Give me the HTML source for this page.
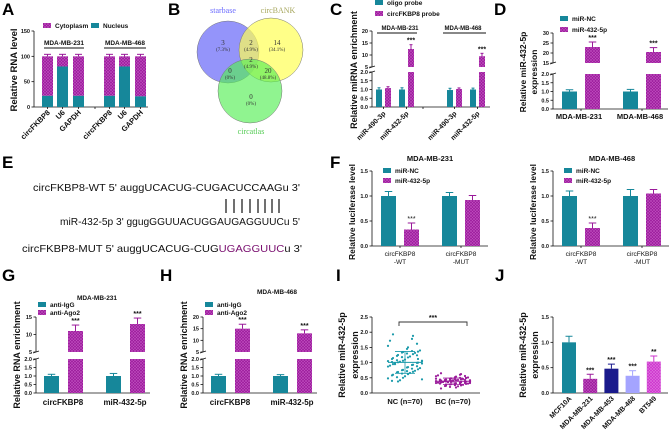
<!DOCTYPE html>
<html><head><meta charset="utf-8">
<style>
html,body{margin:0;padding:0;background:#fff;}
svg{display:block;font-family:"Liberation Sans",Arial,sans-serif;}
</style></head>
<body>
<svg id="fig" width="669" height="434" viewBox="0 0 669 434" xmlns="http://www.w3.org/2000/svg">
<defs>
<pattern id="hatch" width="3" height="3" patternUnits="userSpaceOnUse">
<rect width="3" height="3" fill="#9a1a9a"/>
<path d="M0,0 L3,3 M3,0 L0,3" stroke="#c050c0" stroke-width="0.6"/>
</pattern>
<pattern id="hatchpink" width="3" height="3" patternUnits="userSpaceOnUse">
<rect width="3" height="3" fill="#cc33cc"/>
<path d="M0,0 L3,3 M3,0 L0,3" stroke="#e070e0" stroke-width="0.6"/>
</pattern>
</defs>
<g font-weight="bold" font-size="17">
<text x="2" y="15">A</text>
<text x="168" y="15">B</text>
<text x="330" y="15">C</text>
<text x="494" y="15">D</text>
<text x="2" y="168">E</text>
<text x="330" y="168">F</text>
<text x="2" y="281">G</text>
<text x="160" y="281">H</text>
<text x="336" y="281">I</text>
<text x="495" y="281">J</text>
</g>
<g>
<circle cx="228" cy="52" r="31" fill="#7070f8" fill-opacity="0.75" stroke="#777" stroke-width="0.5"/>
<circle cx="271" cy="50" r="32" fill="#ffff55" fill-opacity="0.7" stroke="#777" stroke-width="0.5"/>
<circle cx="250" cy="91" r="32" fill="#55ee55" fill-opacity="0.65" stroke="#777" stroke-width="0.5"/>
<g font-family="Liberation Serif, serif" font-size="7" text-anchor="middle" fill="#333">
<text x="223" y="13" fill="#6b6bff" font-size="8">starbase</text>
<text x="278" y="13" fill="#a8a860" font-size="8">circBANK</text>
<text x="251" y="134" fill="#55cc55" font-size="8">circatlas</text>
<text x="223" y="45">3</text><text x="223" y="51" font-size="5">(7.3%)</text>
<text x="251" y="45">2</text><text x="251" y="51" font-size="5">(4.9%)</text>
<text x="277" y="45">14</text><text x="277" y="51" font-size="5">(34.1%)</text>
<text x="251" y="62">2</text><text x="251" y="68" font-size="5">(4.9%)</text>
<text x="230" y="73">0</text><text x="230" y="79" font-size="5">(0%)</text>
<text x="268" y="73">20</text><text x="268" y="79" font-size="5">(48.8%)</text>
<text x="251" y="99">0</text><text x="251" y="105" font-size="5">(0%)</text>
</g>
</g>
<g font-size="10.5" fill="#111">
<text x="33" y="191" textLength="267" lengthAdjust="spacingAndGlyphs">circFKBP8-WT  5' auggUCACUG-CUGACUCCAAGu 3'</text>
<text x="60" y="225" textLength="240" lengthAdjust="spacingAndGlyphs">miR-432-5p  3' ggugGGUUACUGGAUGAGGUUCu 5'</text>
<text x="22" y="252" textLength="280" lengthAdjust="spacingAndGlyphs">circFKBP8-MUT  5' auggUCACUG-CUG<tspan fill="#7a1070">UGAGGUUC</tspan>u 3'</text>
<path d="M226,199V213M234,199V213M242,199V213M250,199V213M258,199V213M265,199V213M272,199V213M279,199V213" stroke="#111" stroke-width="1.2"/>
</g>
</svg>
<script>
// ---------- data ----------
const aCats = ["circFKBP8","U6","GAPDH","circFKBP8","U6","GAPDH"];
const aNucleus = [22,80,22,22,80,21];
const aCyto = [78,20,78,78,20,79];
const cCats = ["miR-490-3p","miR-432-5p","miR-490-3p","miR-432-5p"];
const cOligo = [1.0,1.0,0.97,1.0];
const cOligoErr = [0.1,0.1,0.1,0.08];
const cProbe = [1.08,12.5,1.03,9.5];
const cProbeErr = [0.08,1.8,0.06,1.2];
const dCats = ["MDA-MB-231","MDA-MB-468"];
const dNC = [1.0,1.0];
const dNCErr = [0.1,0.12];
const dMir = [23,20.5];
const dMirErr = [2.5,2.2];
const fCats = ["circFKBP8|-WT","circFKBP8|-MUT"];
const f231NC = [1.0,1.0];
const f231NCErr = [0.09,0.07];
const f231Mir = [0.33,0.92];
const f231MirErr = [0.13,0.09];
const f468NC = [1.0,1.0];
const f468NCErr = [0.1,0.13];
const f468Mir = [0.36,1.05];
const f468MirErr = [0.1,0.08];
const ghCats = ["circFKBP8","miR-432-5p"];
const gIgG = [1.0,1.0];
const gIgGErr = [0.1,0.15];
const gAgo = [11,13];
const gAgoErr = [1.7,1.7];
const hIgG = [1.0,1.0];
const hIgGErr = [0.1,0.08];
const hAgo = [15,13];
const hAgoErr = [1.9,1.5];
const iGroups = ["NC (n=70)","BC (n=70)"];
const iNC = [1.93,1.88,1.78,1.72,1.62,1.55,1.5,1.45,1.4,1.38,1.36,1.35,1.33,1.32,1.3,1.28,1.25,1.22,1.2,1.18,1.17,1.15,1.12,1.1,1.08,1.06,1.05,1.04,1.03,1.02,1.01,1.0,0.99,0.98,0.97,0.95,0.93,0.92,0.9,0.88,0.87,0.85,0.84,0.82,0.8,0.78,0.76,0.75,0.73,0.72,0.7,0.69,0.68,0.66,0.64,0.62,0.6,0.58,0.55,0.52,0.5,0.48,0.45,0.42,0.4,0.38,1.12,1.24,0.95,1.06];
const iBC = [0.65,0.62,0.6,0.58,0.56,0.55,0.54,0.52,0.51,0.5,0.49,0.48,0.47,0.46,0.45,0.45,0.44,0.43,0.43,0.42,0.42,0.41,0.41,0.4,0.4,0.4,0.39,0.39,0.38,0.38,0.38,0.37,0.37,0.36,0.36,0.35,0.35,0.34,0.34,0.33,0.33,0.32,0.32,0.31,0.3,0.3,0.29,0.28,0.27,0.26,0.25,0.24,0.23,0.22,0.2,0.18,0.15,0.44,0.41,0.39,0.36,0.47,0.42,0.35,0.31,0.28,0.5,0.43,0.37,0.33];
const jCats = ["MCF10A","MDA-MB-231","MDA-MB-453","MDA-MB-468","BT549"];
const jVals = [1.0,0.28,0.48,0.34,0.62];
const jErr = [0.12,0.09,0.09,0.1,0.11];
const jStars = ["","***","***","***","**"];

// ---------- helpers ----------
const NS='http://www.w3.org/2000/svg';
const svg=document.getElementById('fig');
const TEAL='#16879a', MAG='url(#hatch)', MAGC='#9a1a9a';
function mk(tag, attrs, name, parent){
  const el=document.createElementNS(NS,tag);
  for(const k in attrs) el.setAttribute(k,attrs[k]);
  
  
  (parent||svg).appendChild(el);
  return el;
}
function txt(x,y,s,size,name,o={}){
  const a={x:x,y:y,'font-size':size,'font-weight':o.w||'bold','text-anchor':o.a||'middle',fill:o.fill||'#111'};
  if(o.rot!==undefined) a.transform='rotate('+o.rot+' '+x+' '+y+')';
  const t=mk('text',a,name);
  t.textContent=s;
  return t;
}
function line(x1,y1,x2,y2,name,c,w){return mk('line',{x1:x1,y1:y1,x2:x2,y2:y2,stroke:c||'#111','stroke-width':w||0.8},name);}
function lin(d0,d1,r0,r1){return v=>r0+(v-d0)*(r1-r0)/(d1-d0);}
function makeAxis(x, segs, xEnd){
  segs.forEach(s=>{s.f=lin(s.d0,s.d1,s.y0,s.y1);});
  segs.forEach((s,si)=>{
    line(x,s.y0,x,s.y1,'y-axis-line');
    s.ticks.forEach(t=>{
      const y=s.f(t);
      line(x-2.5,y,x,y,'y-tick');
      txt(x-4,y+2,t.toFixed(s.dec),5.5,'y-tick-label',{a:'end'});
    });
    if(si>0){ line(x-3,s.y0+1,x+3,s.y0-1,'axis-break-mark'); line(x-3,segs[si-1].y1+1,x+3,segs[si-1].y1-1,'axis-break-mark'); }
  });
  line(x,segs[0].y0,xEnd,segs[0].y0,'x-axis-line');
  return {x:x,segs:segs,
    y:function(v){for(let i=this.segs.length-1;i>=0;i--){const s=this.segs[i];if(v>=s.d0||i===0)return s.f(Math.min(v,s.d1));}}};
}
function bar(ax,x,w,v,err,fill,errc,name){
  ax.segs.forEach((s,i)=>{
    if(v>s.d0||i===0){
      const lo=s.f(i===0?0:s.d0), hi=s.f(Math.min(v,s.d1));
      mk('rect',{x:x,y:hi,width:w,height:Math.max(0,lo-hi),fill:fill},name);
    }
  });
  if(err>0){
    const yt=ax.y(v), ye=ax.y(v+err), cx=x+w/2;
    line(cx,yt,cx,ye,'error-bar',errc,1);
    line(cx-w/4,ye,cx+w/4,ye,'error-bar-cap',errc,1);
  }
  return ax.y(v+err);
}
function legend(x,y,fill,label,name){
  mk('rect',{x:x,y:y-3,width:8,height:5,fill:fill},name+'-swatch');
  txt(x+12,y+2,label,6.5,name+'-label',{a:'start'});
}
function ytitle(x,y,s,name,size){txt(x,y,s,size||9,name,{rot:-90});}

// ---------- Panel A ----------
(function(){
  const ax=makeAxis(34,[{d0:0,d1:150,y0:107,y1:31,ticks:[0,50,100,150],dec:0}],148);
  const xs=[42,57,73,104,119,135], w=11;
  aCats.forEach((c,i)=>{
    const yN=ax.y(aNucleus[i]), y0=ax.y(0), yT=ax.y(aNucleus[i]+aCyto[i]);
    mk('rect',{x:xs[i],y:yT,width:w,height:yN-yT,fill:MAG},'bar-cytoplasm');
    mk('rect',{x:xs[i],y:yN,width:w,height:y0-yN,fill:TEAL},'bar-nucleus');
    line(xs[i]+w/2,yT,xs[i]+w/2,yT-2,'error-bar',MAGC,1); line(xs[i]+2,yT-2,xs[i]+w-2,yT-2,'error-bar-cap',MAGC,1);
    line(xs[i]+w/2,y0,xs[i]+w/2,y0+2,'x-tick');
    txt(xs[i]+w/2+3,113,c,7.5,'x-tick-label',{a:'end',rot:-45});
  });
  line(95,107,95,109,'x-tick');
  txt(64,45,'MDA-MB-231',6.5,'group-label'); line(44,48,84,48,'group-underline','#111',1);
  txt(125,45,'MDA-MB-468',6.5,'group-label'); line(104,48,146,48,'group-underline','#111',1);
  legend(43,26,MAG,'Cytoplasm','legend-cytoplasm');
  legend(91,26,TEAL,'Nucleus','legend-nucleus');
  ytitle(17,70,'Relative RNA level','y-axis-title',9.5);
})();

// ---------- Panel C ----------
(function(){
  const ax=makeAxis(372,[{d0:0,d1:2,y0:107,y1:72,ticks:[0,0.5,1,1.5,2],dec:1},{d0:5,d1:20,y0:67,y1:31,ticks:[5,10,15,20],dec:0}],490);
  const xs=[376,399,447,470], w=6;
  cCats.forEach((c,i)=>{
    bar(ax,xs[i],w,cOligo[i],cOligoErr[i],TEAL,TEAL,'bar-oligo-probe');
    const yt=bar(ax,xs[i]+9,w,cProbe[i],cProbeErr[i],MAG,MAGC,'bar-circfkbp8-probe');
    if(cProbe[i]>5) txt(xs[i]+12,yt-2,'***',7,'significance-stars');
    line(xs[i]+7.5,107,xs[i]+7.5,109,'x-tick');
    txt(xs[i]+10,114,c,7,'x-tick-label',{a:'end',rot:-45});
  });
  line(423,107,423,109,'x-tick');
  txt(400,30,'MDA-MB-231',6,'group-label'); line(377,33,417,33,'group-underline','#111',1);
  txt(463,30,'MDA-MB-468',6,'group-label'); line(443,33,486,33,'group-underline','#111',1);
  legend(375,3,TEAL,'oligo probe','legend-oligo-probe');
  legend(375,14,MAG,'circFKBP8 probe','legend-circfkbp8-probe');
  ytitle(357,70,'Relative miRNA enrichment','y-axis-title',9);
})();

// ---------- Panel D ----------
(function(){
  const ax=makeAxis(553,[{d0:0,d1:2,y0:109,y1:74,ticks:[0,0.5,1,1.5,2],dec:1},{d0:15,d1:30,y0:63,y1:33,ticks:[15,20,25,30],dec:0}],668);
  const xs=[562,623], w=15;
  dCats.forEach((c,i)=>{
    bar(ax,xs[i],w,dNC[i],dNCErr[i],TEAL,TEAL,'bar-mir-nc');
    const yt=bar(ax,xs[i]+23,w,dMir[i],dMirErr[i],MAG,MAGC,'bar-mir-432-5p');
    txt(xs[i]+30.5,yt-2,'***',7,'significance-stars');
    line(xs[i]+19,109,xs[i]+19,111,'x-tick');
    txt(xs[i]+17,119,c,7.5,'x-tick-label');
  });
  legend(560,19,TEAL,'miR-NC','legend-mir-nc');
  legend(560,30,MAG,'miR-432-5p','legend-mir-432-5p');
  ytitle(526,72,'Relative miR-432-5p','y-axis-title',8.5);
  ytitle(537,72,'expression','y-axis-title',8.5);
})();

// ---------- Panel F ----------
function panelF(axX,nc,ncErr,mir,mirErr,title,titleX){
  const ax=makeAxis(axX,[{d0:0,d1:1.5,y0:246,y1:171,ticks:[0,0.5,1,1.5],dec:1}],axX+116);
  const xs=[axX+9,axX+70], w=15;
  fCats.forEach((c,i)=>{
    bar(ax,xs[i],w,nc[i],ncErr[i],TEAL,TEAL,'bar-mir-nc');
    const yt=bar(ax,xs[i]+23,w,mir[i],mirErr[i],MAG,MAGC,'bar-mir-432-5p');
    if(mir[i]<0.6) txt(xs[i]+30.5,yt-2,'***',7,'significance-stars',{w:'normal'});
    line(xs[i]+19,246,xs[i]+19,248,'x-tick');
    const p=c.split('|');
    txt(xs[i]+19,256,p[0],6.5,'x-tick-label',{w:'normal'});
    txt(xs[i]+19,264,p[1],6.5,'x-tick-label',{w:'normal'});
  });
  legend(axX+11,171,TEAL,'miR-NC','legend-mir-nc');
  legend(axX+11,181,MAG,'miR-432-5p','legend-mir-432-5p');
  txt(titleX,161,title,7.5,'chart-title');
  ytitle(axX-17,212,'Relative luciferase level','y-axis-title',8.5);
}
panelF(372,f231NC,f231NCErr,f231Mir,f231MirErr,'MDA-MB-231',430);
panelF(553,f468NC,f468NCErr,f468Mir,f468MirErr,'MDA-MB-468',612);

// ---------- Panels G, H ----------
function panelGH(axX,upTicks,upMax,upTop,igg,iggErr,ago,agoErr,title,titleX,titleY){
  const ax=makeAxis(axX,[{d0:0,d1:2,y0:393,y1:359,ticks:[0,0.5,1,1.5,2],dec:1},{d0:5,d1:upMax,y0:352,y1:upTop,ticks:upTicks,dec:0}],axX+114);
  const xs=[axX+8,axX+70], w=15;
  ghCats.forEach((c,i)=>{
    bar(ax,xs[i],w,igg[i],iggErr[i],TEAL,TEAL,'bar-anti-igg');
    const yt=bar(ax,xs[i]+24,w,ago[i],agoErr[i],MAG,MAGC,'bar-anti-ago2');
    txt(xs[i]+31.5,yt-2,'***',7,'significance-stars');
    txt(xs[i]+19,405,c,8,'x-tick-label');
  });
  legend(axX+2,305,TEAL,'anti-IgG','legend-anti-igg');
  legend(axX+2,313,MAG,'anti-Ago2','legend-anti-ago2');
  txt(titleX,titleY,title,6.5,'chart-title');
  ytitle(axX-16,355,'Relative RNA enrichment','y-axis-title',9);
}
panelGH(36,[5,10,15],15,317,gIgG,gIgGErr,gAgo,gAgoErr,'MDA-MB-231',97,300);
panelGH(203,[5,10,15,20],20,317,hIgG,hIgGErr,hAgo,hAgoErr,'MDA-MB-468',277,294);

// ---------- Panel I ----------
(function(){
  const ax=makeAxis(372,[{d0:0,d1:2.5,y0:393,y1:317,ticks:[0,0.5,1,1.5,2,2.5],dec:1}],480);
  const groups=[iNC,iBC], cx=[405,453], cols=['#1a9aaa','#9a1a9a'];
  groups.forEach((arr,g)=>{
    arr.forEach((v,i)=>{
      const off=((i*i*7+i*13+5)%35)-17;
      mk('circle',{cx:cx[g]+off,cy:ax.y(v),r:1.1,fill:cols[g]},'scatter-point');
    });
    const m=arr.reduce((a,b)=>a+b,0)/arr.length;
    const sd=Math.sqrt(arr.reduce((a,b)=>a+(b-m)*(b-m),0)/arr.length);
    line(cx[g]-17,ax.y(m),cx[g]+17,ax.y(m),'mean-line',cols[g],1);
    line(cx[g],ax.y(m-sd),cx[g],ax.y(m+sd),'sd-line',cols[g],0.8);
    line(cx[g]-10,ax.y(m-sd),cx[g]+10,ax.y(m-sd),'sd-cap',cols[g],0.8);
    line(cx[g]-10,ax.y(m+sd),cx[g]+10,ax.y(m+sd),'sd-cap',cols[g],0.8);
    txt(cx[g],404,iGroups[g],7.5,'x-tick-label');
  });
  mk('path',{d:'M399,326V322H467V326',fill:'none',stroke:'#333','stroke-width':0.9},'significance-bracket');
  txt(433,320,'***',7,'significance-stars');
  ytitle(345,355,'Relative miR-432-5p','y-axis-title',9);
  ytitle(358,355,'expression','y-axis-title',9);
})();

// ---------- Panel J ----------
(function(){
  const ax=makeAxis(553,[{d0:0,d1:1.5,y0:393,y1:317,ticks:[0,0.5,1,1.5],dec:1}],668);
  const fills=['#16879a','url(#hatch)','#1a1a8c','#a4a4ff','url(#hatchpink)'];
  const cols=['#16879a','#9a1a9a','#1a1a8c','#a4a4ff','#cc33cc'];
  jCats.forEach((c,i)=>{
    const x=562+i*21.2;
    const yt=bar(ax,x,14,jVals[i],jErr[i],fills[i],cols[i],'bar-'+c.toLowerCase());
    if(jStars[i]) txt(x+7,yt-2,jStars[i],7,'significance-stars');
    txt(x+10,399,c,7,'x-tick-label',{a:'end',rot:-45});
  });
  ytitle(526,355,'Relative miR-432-5p','y-axis-title',9);
  ytitle(538,355,'expression','y-axis-title',9);
})();
</script>
</body></html>
